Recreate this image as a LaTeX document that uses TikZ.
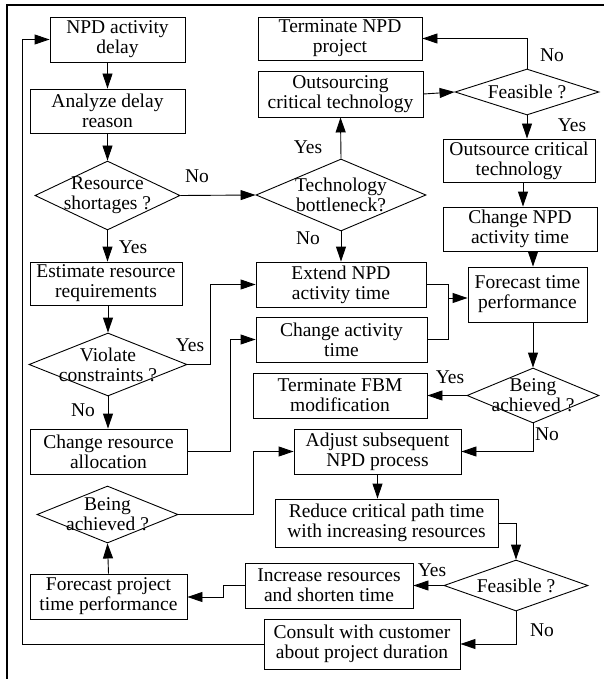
\documentclass[tikz,border=0pt]{standalone}
\usepackage{fontspec}
\setmainfont{Liberation Serif}
\usetikzlibrary{shapes.geometric,arrows.meta}
\newcommand\dlines[2]{\makebox[0pt]{#1}\\\makebox[0pt]{#2}}
\newcommand\dline[1]{\makebox[0pt]{#1}}
\begin{document}
\begin{tikzpicture}[x=1pt,y=-1pt,
  every node/.style={font=\fontsize{19.5}{20}\selectfont},
  bx/.style 2 args={draw, rectangle, line width=0.9pt, minimum width=#1, minimum height=#2, inner sep=0pt, align=center},
  dm/.style 2 args={draw, diamond, line width=0.9pt, minimum width=#1, minimum height=#2, inner sep=0pt, align=center},
  lbl/.style={inner sep=0pt},
  ln/.style={line width=0.9pt},
  arr/.style={line width=0.9pt, -{Triangle[length=15pt,width=10pt]}}]
\useasboundingbox (0,0) rectangle (604,679);
\draw[line width=2.5pt] (7,679) -- (7,5) -- (604,5);

% left column
\node[bx={135}{45}] (npd) at (117.5,39.5) {NPD activity\\delay};
\node[bx={155}{44}] (analyze) at (107.5,111) {Analyze delay\\reason};
\node[dm={145}{69}] (rs) at (107.5,195.5) {\dlines{Resource}{shortages ?}};
\node[bx={152}{43}] (est) at (106,283.5) {Estimate resource\\requirements};
\node[dm={158}{63}] (viol) at (108,364.5) {\dlines{Violate}{constraints ?}};
\node[bx={157}{45}] (cra) at (108.5,451.5) {Change resource\\allocation};
\node[dm={141}{57}] (ba1) at (107.5,514.5) {\dlines{Being}{achieved ?}};
\node[bx={157}{45}] (fpt) at (108.5,596.5) {Forecast project\\time performance};

% middle column
\node[bx={164}{43}] (tnp) at (340,38.5) {Terminate NPD\\project};
\node[bx={165}{46}] (oct) at (340.5,94) {Outsourcing\\critical technology};
\node[dm={170}{72}] (tb) at (341,195) {\dlines{Technology}{bottleneck?}};
\node[bx={170}{45}] (ext) at (341,284.5) {Extend NPD\\activity time};
\node[bx={171}{45}] (cat) at (341.5,339.5) {Change activity\\time};
\node[bx={174}{45}] (tfm) at (340,395.5) {Terminate FBM\\modification};
\node[bx={167}{45}] (adj) at (377.5,451.5) {Adjust subsequent\\NPD process};
\node[bx={223}{48}] (red) at (386.5,523) {Reduce critical path time\\with increasing resources};
\node[bx={168}{45}] (inc) at (329,585.5) {Increase resources\\and shorten time};
\node[bx={196}{50}] (con) at (362,644) {Consult with customer\\about project duration};

% right column
\node[dm={144}{46}] (fe1) at (527,92) {\dline{Feasible ?}};
\node[bx={152}{43}] (osc) at (519,160.5) {Outsource critical\\technology};
\node[bx={154}{44}] (cnat) at (520,229) {Change NPD\\activity time};
\node[bx={119}{55}] (ftp) at (527.5,294.5) {Forecast time\\performance};
\node[dm={132}{55}] (ba2) at (533,395.5) {\dlines{Being}{achieved ?}};
\node[dm={144}{51}] (fe2) at (516,585.5) {\dline{Feasible ?}};

% labels
\node[lbl] (l1) at (197,176) {No};
\node[lbl] (l2) at (133,247) {Yes};
\node[lbl] (l3) at (190,345) {Yes};
\node[lbl] (l4) at (83,410) {No};
\node[lbl] (l5) at (308,147) {Yes};
\node[lbl] (l6) at (308,238) {No};
\node[lbl] (l7) at (552,55) {No};
\node[lbl] (l8) at (572,125) {Yes};
\node[lbl] (l9) at (450,377) {Yes};
\node[lbl] (l10) at (547,434) {No};
\node[lbl] (l11) at (432,570) {Yes};
\node[lbl] (l12) at (542,630) {No};

% connectors
\draw[arr] (analyze.north |- npd.south) -- (analyze.north);
\draw[arr] (analyze.south) -- (rs.north);
\draw[arr] (rs.east) -- (tb.west);
\draw[arr] (rs.south) -- (rs.south |- est.north);
\draw[arr] (viol.north |- est.south) -- (viol.north);
\coordinate (v1) at (210,364.5);
\draw[arr] (viol.east) -- (v1) |- (ext.west);
\draw[arr] (viol.south) -- (viol.south |- cra.north);
\coordinate (c1) at (230,451.5);
\draw[arr] (cra.east) -- (c1) |- (cat.west);
\coordinate (j1) at (448,298);
\draw[ln] (ext.east) -| (j1);
\draw[ln] (cat.east) -| (j1);
\draw[arr] (j1) -- (j1 -| ftp.west);
\draw[arr] (tb.north) -- (oct.south);
\draw[arr] (tb.south) -- (ext.north);
\draw[arr] (oct.east) -- (fe1.west);
\draw[arr] (fe1.north) |- (tnp.east);
\draw[arr] (fe1.south) -- (fe1.south |- osc.north);
\coordinate (o1) at (523,0);
\draw[arr] (o1 |- osc.south) -- (o1 |- cnat.north);
\draw[arr] (ba2.north |- cnat.south) -- (ba2.north |- ftp.north);
\draw[arr] (ba2.north |- ftp.south) -- (ba2.north);
\draw[arr] (ba2.west) -- (tfm.east);
\draw[arr] (ba2.south) |- (adj.east);
\coordinate (b1) at (253,514.5);
\draw[arr] (ba1.east) -- (b1) |- (adj.west);
\draw[arr] (adj.south) -- (adj.south |- red.north);
\draw[arr] (red.east) -| (fe2.north);
\draw[arr] (fe2.west) -- (inc.east);
\coordinate (i1) at (223,585.5);
\coordinate (i2) at (223,597);
\draw[arr] (inc.west) -- (i1) -- (i2) -- (i2 -| fpt.east);
\draw[arr] (fpt.north) -- (ba1.south);
\draw[arr] (fe2.south) |- (con.east);
\coordinate (fb) at (22,39.5);
\draw[arr] (con.west) -| (fb) -- (npd.west);
\end{tikzpicture}
\end{document}
